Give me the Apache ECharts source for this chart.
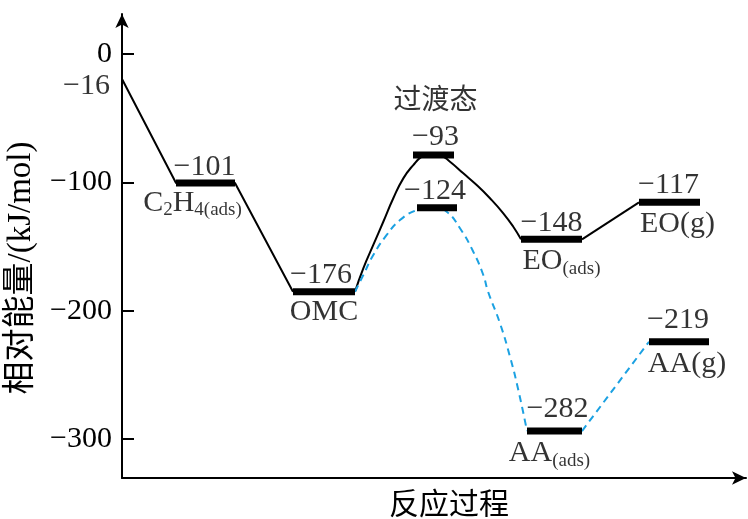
<!DOCTYPE html>
<html><head><meta charset="utf-8">
<script src="https://cdn.jsdelivr.net/npm/echarts@6/dist/echarts.min.js"></script>
<style>html,body{margin:0;padding:0;background:#fff}#c{width:748px;height:519px}</style>
</head><body><div id="c"></div>
<script>
// ---- data ----
const levelNames   = ['C2H4(ads)', 'OMC', 'TS1', 'TS2', 'EO(ads)', 'EO(g)', 'AA(ads)', 'AA(g)'];
const levelStart   = [54, 171, 291, 295, 399, 517, 405, 527];   // reaction coordinate
const levelEnd     = [113, 233, 332, 335, 460, 578, 460, 587];
const levelEnergy  = [-100.5, -185.2, -78.7, -119.8, -144.4, -115.6, -293.8, -224.2]; // as drawn
const energyText   = ['−101', '−176', '−93', '−124', '−148', '−117', '−282', '−219'];
const speciesText  = ['{m|C}{s|2}{m|H}{s|4(ads)}', '{m|OMC}', '{t|过渡态}', '', '{m|EO}{s|(ads)}', '{m|EO(g)}', '{m|AA}{s|(ads)}', '{m|AA(g)}'];
const startPoint   = [0, -19.5];
const startText    = '−16';
const blackHumpX   = [241.3, 251.3, 261.3, 271.3, 281.3, 291.3, 299.7, 308, 318, 328, 341.3, 354.7, 368, 381.3, 391.3];
const blackHumpY   = [-167.0, -148.8, -130.7, -112.4, -96.9, -86.5, -80.0, -77.4, -78.7, -83.9, -93.0, -102.1, -112.4, -124.1, -134.6];
const blueHumpX    = [241.3, 251.3, 264.7, 278, 294.7, 311.3, 324.7, 338, 351.3, 361.3, 366, 378, 388, 396.3];
const blueHumpY    = [-172.2, -156.6, -141.0, -129.4, -121.6, -119.0, -122.9, -135.8, -154.1, -172.2, -185.0, -209.9, -235.9, -261.8];
const yTickValues  = [0, -100, -200, -300];
const xAxisTitle   = '反应过程';
const yAxisTitle   = '相对能量/(kJ/mol)';

// ---- layout / style (not data) ----
const energyOffset  = [[-1, -16], [-3, -17], [2, -18], [-2, -17], [0, -16], [-1, -17], [3, -22], [-1, -22]];
const speciesOffset = [[-13, 20], [0, 20], [2, -53], [0, 0], [10, 22], [8, 22], [-5, 22], [8, 22]];
const FONT = "'Liberation Serif', 'Noto Sans CJK SC', serif";
const BLUE = '#1ba1e2';

const idx = levelNames.map((_, i) => i);
const lvl = i => ({ x0: levelStart[i], x1: levelEnd[i], y: levelEnergy[i], xc: (levelStart[i] + levelEnd[i]) / 2 });
const iC2H4 = 0, iOMC = 1, iEOads = 4, iEOg = 5, iAAads = 6, iAAg = 7;

const series = [];
// black straight connectors
series.push({ type: 'line', silent: true, symbol: 'none', z: 2,
  lineStyle: { color: '#000', width: 2 },
  data: [startPoint, [lvl(iC2H4).x0, lvl(iC2H4).y], [lvl(iC2H4).x1, lvl(iC2H4).y], [lvl(iOMC).x0, lvl(iOMC).y]] });
series.push({ type: 'line', silent: true, symbol: 'none', z: 2,
  lineStyle: { color: '#000', width: 2 },
  data: [[lvl(iEOads).x1, lvl(iEOads).y], [lvl(iEOg).x0, lvl(iEOg).y]] });
// black hump (transition state)
series.push({ type: 'line', silent: true, symbol: 'none', smooth: 0.5, z: 2,
  lineStyle: { color: '#000', width: 2 },
  data: [[lvl(iOMC).x1, lvl(iOMC).y]].concat(blackHumpX.map((x, k) => [x, blackHumpY[k]])).concat([[lvl(iEOads).x0, lvl(iEOads).y]]) });
// blue dashed hump
series.push({ type: 'line', silent: true, symbol: 'none', smooth: 0.5, z: 2,
  lineStyle: { color: BLUE, width: 2, type: [7, 5] },
  data: [[lvl(iOMC).x1, lvl(iOMC).y]].concat(blueHumpX.map((x, k) => [x, blueHumpY[k]])).concat([[lvl(iAAads).x0, lvl(iAAads).y]]) });
series.push({ type: 'line', silent: true, symbol: 'none', z: 2,
  lineStyle: { color: BLUE, width: 2, type: [7, 5] },
  data: [[lvl(iAAads).x1, lvl(iAAads).y], [lvl(iAAg).x0, lvl(iAAg).y]] });
// level bars
idx.forEach(i => {
  const L = lvl(i);
  series.push({ type: 'line', silent: true, symbol: 'none', z: 5,
    lineStyle: { color: '#000', width: 7, cap: 'butt' },
    data: [[L.x0, L.y], [L.x1, L.y]] });
});
// energy value labels
series.push({ type: 'scatter', silent: true, symbolSize: 0, z: 6,
  data: idx.map(i => ({ value: [lvl(i).xc, lvl(i).y],
    label: { show: true, position: 'inside', offset: energyOffset[i], formatter: energyText[i] } })),
  label: { color: '#000', fontFamily: FONT, fontSize: 30 } });
// species labels
series.push({ type: 'scatter', silent: true, symbolSize: 0, z: 6,
  data: idx.filter(i => speciesText[i]).map(i => ({ value: [lvl(i).xc, lvl(i).y],
    label: { show: true, position: 'inside', offset: speciesOffset[i], formatter: speciesText[i] } })),
  label: { color: '#000', fontFamily: FONT,
    rich: {
      m: { fontFamily: FONT, fontSize: 30, lineHeight: 34, color: '#000' },
      s: { fontFamily: FONT, fontSize: 19, lineHeight: 10, verticalAlign: 'bottom', color: '#000' },
      t: { fontFamily: FONT, fontSize: 28, lineHeight: 34, color: '#000' }
    } } });
// start value label
series.push({ type: 'scatter', silent: true, symbolSize: 0, z: 6,
  data: [{ value: startPoint, label: { show: true, position: 'left', distance: 12, offset: [0, 7], formatter: startText } }],
  label: { color: '#000', fontFamily: FONT, fontSize: 30 } });

const chart = echarts.init(document.getElementById('c'), null, { renderer: 'canvas' });
chart.setOption({
  animation: false,
  backgroundColor: '#fff',
  grid: { left: 122, right: 2, top: 14, bottom: 41, containLabel: false, outerBoundsMode: 'none' },
  xAxis: {
    type: 'value', min: 0, max: 624,
    axisLine: { show: true, onZero: false, symbol: ['none', 'arrow'], symbolSize: [10, 14], lineStyle: { color: '#000', width: 2 } },
    axisTick: { show: false }, axisLabel: { show: false }, splitLine: { show: false },
    name: xAxisTitle, nameLocation: 'middle', nameGap: 13,
    nameTextStyle: { fontFamily: FONT, fontSize: 30, color: '#000', padding: [0, 0, 0, 30] }
  },
  yAxis: {
    type: 'value', min: -330.4, max: 31.2,
    axisLine: { show: true, onZero: false, symbol: ['none', 'arrow'], symbolSize: [10, 14], lineStyle: { color: '#000', width: 2 } },
    axisTick: { show: true, inside: true, length: 12, customValues: yTickValues, lineStyle: { color: '#000', width: 2 } },
    axisLabel: { show: true, customValues: yTickValues, margin: 10, color: '#000', fontFamily: FONT, fontSize: 30,
      formatter: v => (v < 0 ? '−' + Math.abs(v) : String(v)) },
    splitLine: { show: false },
    name: yAxisTitle, nameLocation: 'middle', nameGap: 84, nameRotate: 90,
    nameTextStyle: { fontFamily: FONT, fontSize: 33, color: '#000', padding: [0, 44, 0, 0] }
  },
  series
});
</script>
</body></html>
